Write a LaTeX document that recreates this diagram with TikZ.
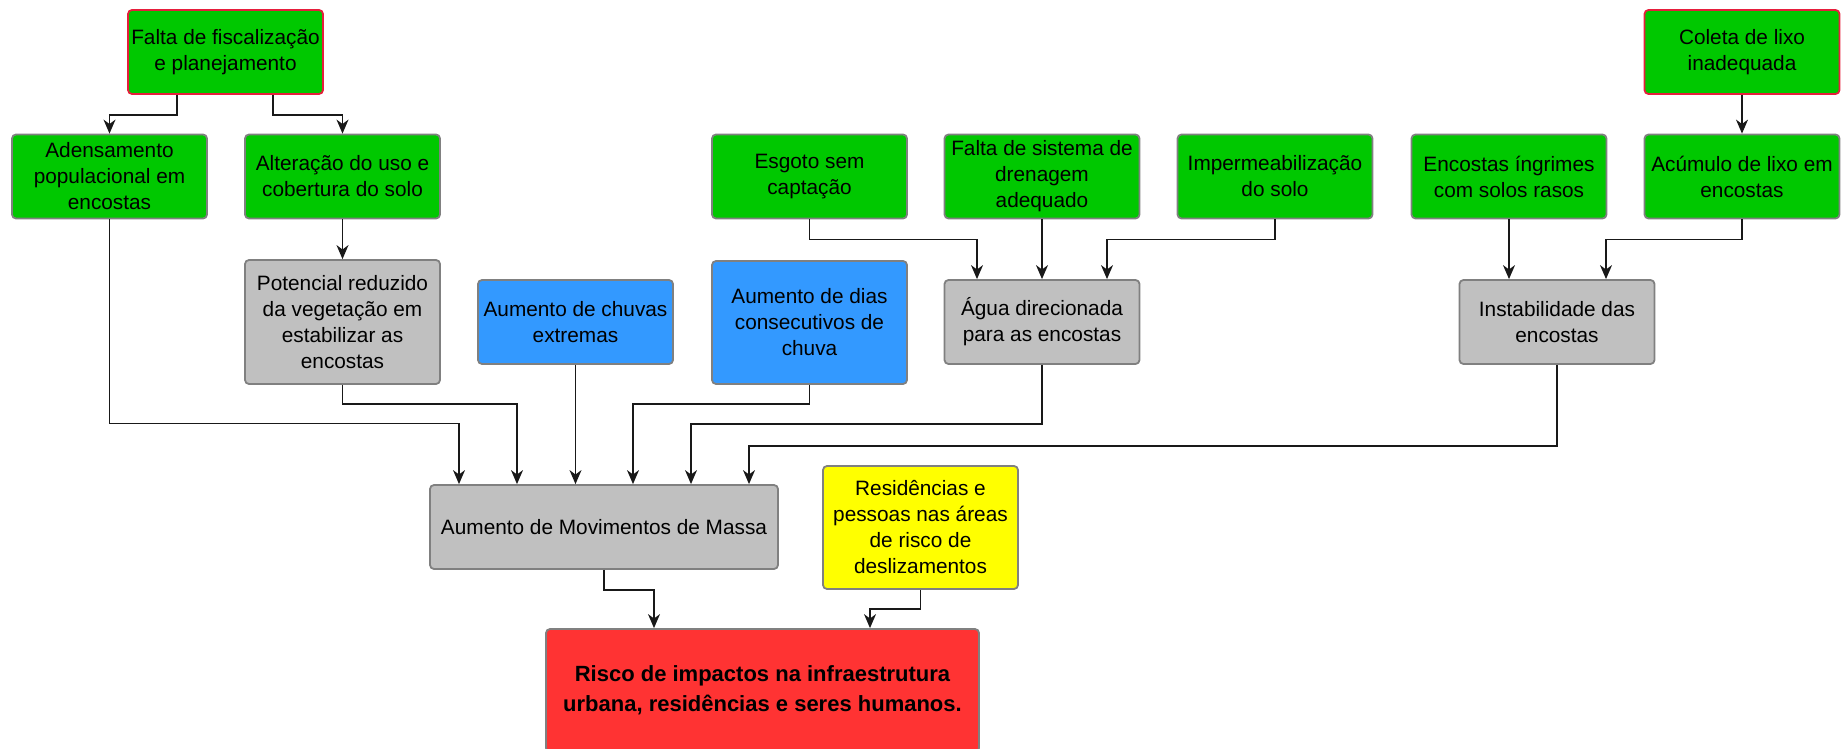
\documentclass[tikz,border=0pt]{standalone}
\usepackage{fontspec}
\setmainfont{Liberation Sans}
\usetikzlibrary{arrows.meta,calc}

\definecolor{boxgreen}{RGB}{0,200,0}
\definecolor{boxblue}{RGB}{51,153,255}
\definecolor{boxgray}{RGB}{192,192,192}
\definecolor{boxyellow}{RGB}{255,255,0}
\definecolor{boxred}{RGB}{255,51,51}
\definecolor{edgegray}{RGB}{128,128,128}
\definecolor{edgered}{RGB}{230,30,60}

\tikzset{
	block/.style={draw=edgegray,line width=0.9pt,rounded corners=2pt,align=center,inner sep=0pt,minimum width=97.5pt,minimum height=42pt,font=\fontsize{10.4}{13}\selectfont},
	cause/.style={block,fill=boxgreen},
	root/.style={cause,draw=edgered},
	climate/.style={block,fill=boxblue},
	effect/.style={block,fill=boxgray},
	exposure/.style={block,fill=boxyellow},
	impact/.style={block,fill=boxred,font=\fontsize{11}{15}\selectfont\bfseries},
	link/.style={-{Stealth[length=7pt,width=6pt,inset=2.2pt]},line width=0.65pt,black!90}
}

\begin{document}
\begin{tikzpicture}[x=0.5pt,y=-0.5pt]
	\useasboundingbox (0,0) rectangle (1843,749);

	% top causes
	\node[root] (falta) at (225.5,52) {Falta de fiscalização\\e planejamento};
	\node[root] (coleta) at (1742,52) {Coleta de lixo\\inadequada};

	% second row
	\node[cause] (adens) at (109.5,176.5) {Adensamento\\populacional em\\encostas};
	\node[cause] (alter) at (342.5,176.5) {Alteração do uso e\\cobertura do solo};
	\node[cause] (esgoto) at (809.5,176.5) {Esgoto sem\\captação};
	\node[cause] (sistema) at (1042,176.5) {Falta de sistema de\\drenagem\\adequado};
	\node[cause] (imperm) at (1275,176.5) {Impermeabilização\\do solo};
	\node[cause] (encostas) at (1509,176.5) {Encostas íngrimes\\com solos rasos};
	\node[cause] (acumulo) at (1742,176.5) {Acúmulo de lixo em\\encostas};

	% third row
	\node[effect,minimum height=62pt] (pot) at (342.5,322) {Potencial reduzido\\da vegetação em\\estabilizar as\\encostas};
	\node[climate] (chuvas) at (575.5,322) {Aumento de chuvas\\extremas};
	\node[climate,minimum height=61.5pt] (dias) at (809.5,322.5) {Aumento de dias\\consecutivos de\\chuva};
	\node[effect] (agua) at (1042,322) {Água direcionada\\para as encostas};
	\node[effect] (instab) at (1557,322) {Instabilidade das\\encostas};

	% bottom
	\node[effect,minimum width=174pt] (mov) at (604,527) {Aumento de Movimentos de Massa};
	\node[exposure,minimum height=61.5pt] (resid) at (920.5,527.5) {Residências e\\pessoas nas áreas\\de risco de\\deslizamentos};
	\node[impact,minimum width=216.5pt,minimum height=61.5pt] (risco) at (762.5,690.5) {Risco de impactos na infraestrutura\\urbana, residências e seres humanos.};

	%Links
	\draw[link] (falta.south) ++(-48.5,0) -- ++(0,20) -| (adens.north);
	\draw[link] (falta.south) ++(47.5,0) -- ++(0,20) -| (alter.north);
	\draw[link] (alter) -- (pot);
	\draw[link] (coleta) -- (acumulo);

	% into water box
	\draw[link] (esgoto.south) -- ++(0,20) -| ($(agua.north)+(-65,0)$);
	\draw[link] (sistema) -- (agua);
	\draw[link] (imperm.south) -- ++(0,20) -| ($(agua.north)+(65,0)$);

	% into slope box
	\draw[link] (encostas.south) -- (encostas.south |- instab.north);
	\draw[link] (acumulo.south) -- ++(0,20) -| ($(instab.north)+(49,0)$);

	% into mass movements
	\draw[link] (adens.south) -- ++(0,204) -| ($(mov.north)+(-145,0)$);
	\draw[link] (pot.south) -- ++(0,19) -| ($(mov.north)+(-87,0)$);
	\draw[link] (chuvas.south) -- (chuvas.south |- mov.north);
	\draw[link] (dias.south) -- ++(0,19) -| ($(mov.north)+(29,0)$);
	\draw[link] (agua.south) -- ++(0,59) -| ($(mov.north)+(87,0)$);
	\draw[link] (instab.south) -- ++(0,81) -| ($(mov.north)+(145,0)$);

	% into risk
	\draw[link] (mov.south) -- ++(0,20) -| ($(risco.north)+(-108.5,0)$);
	\draw[link] (resid.south) -- ++(0,19) -| ($(risco.north)+(107.5,0)$);

\end{tikzpicture}
\end{document}
